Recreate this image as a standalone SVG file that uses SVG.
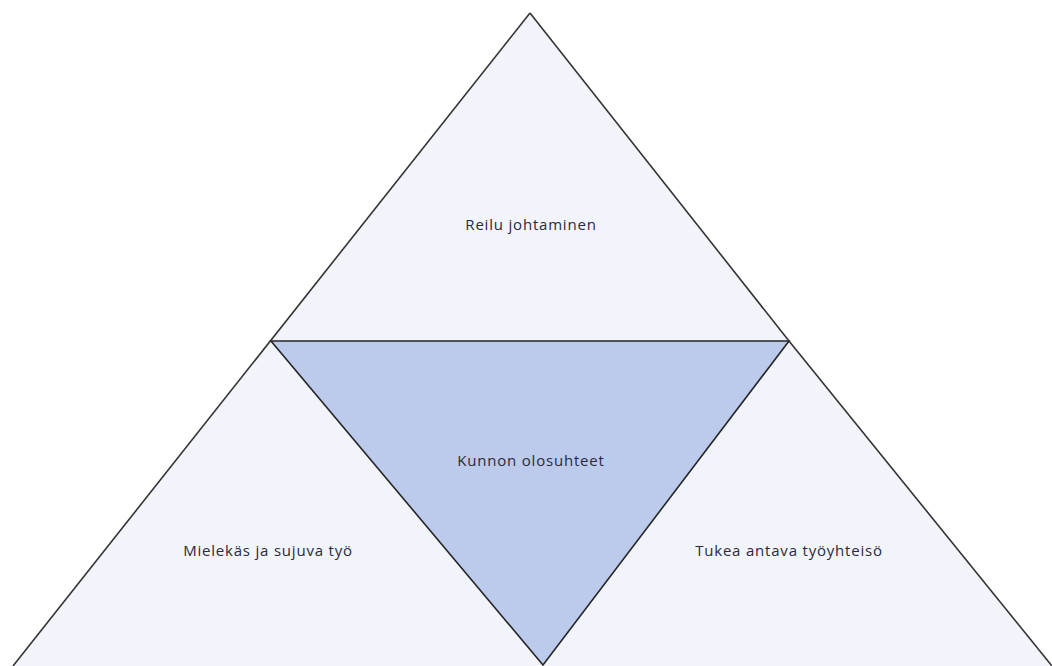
<svg xmlns="http://www.w3.org/2000/svg" width="1052" height="666" viewBox="0 0 1052 666">
<style>
.light{fill:#f1f4fa;stroke:none}
.mid{fill:#bccaeb;stroke:#262626;stroke-width:1.6}
.edge{stroke:#333;stroke-width:1.6;fill:none}
.lbl{font-family:"Open Sans","Liberation Sans",sans-serif;font-size:15px;letter-spacing:0.8px;fill:#2a2a3a;text-anchor:middle}
</style>
<rect width="1052" height="666" fill="#ffffff"/>
<g id="top">
<polygon class="light" points="530,13 789,341 271,341"/>
<text class="lbl" x="531" y="230">Reilu johtaminen</text>
</g>
<g id="left">
<polygon class="light" points="271,341 543,666 13,666"/>
<text class="lbl" x="268" y="556">Mielekäs ja sujuva työ</text>
</g>
<g id="right">
<polygon class="light" points="789,341 1052,666 543,666"/>
<text class="lbl" x="789" y="556">Tukea antava työyhteisö</text>
</g>
<g id="middle">
<polygon class="mid" points="271,341 789,341 543,665"/>
<text class="lbl" x="531" y="466">Kunnon olosuhteet</text>
</g>
<g id="connectors">
<line class="edge" x1="530" y1="13" x2="13" y2="666"/>
<line class="edge" x1="530" y1="13" x2="789" y2="341"/>
<line class="edge" x1="789" y1="341" x2="1052" y2="666"/>
</g>
</svg>
